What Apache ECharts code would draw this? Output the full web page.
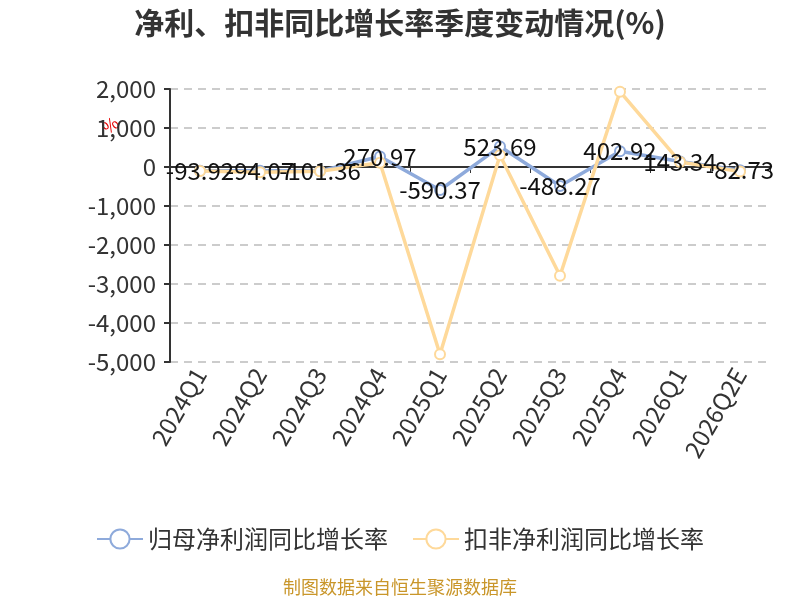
<!DOCTYPE html>
<html><head><meta charset="utf-8">
<script src="https://cdn.jsdelivr.net/npm/echarts@6/dist/echarts.min.js"></script>
<style>html,body{margin:0;padding:0;background:#fff}#c{width:800px;height:600px}</style>
</head><body><div id="c"></div>
<script>
var categories = ['2024Q1','2024Q2','2024Q3','2024Q4','2025Q1','2025Q2','2025Q3','2025Q4','2026Q1','2026Q2E'];
var netProfitYoY = [-93.92,-94.07,-101.36,270.97,-590.37,523.69,-488.27,402.92,143.34,-82.73];
var deductedYoY = [-105,-135,-110,110,-4800,300,-2790,1930,130,-115];
var seriesNames = ['归母净利润同比增长率','扣非净利润同比增长率'];
var yTicks = {min:-5000, max:2000, interval:1000};

var chart = echarts.init(document.getElementById('c'));
var font = '"Microsoft YaHei","Noto Sans CJK SC",sans-serif';
chart.setOption({
  animation:false,
  textStyle:{fontFamily:font},
  title:{text:'净利、扣非同比增长率季度变动情况(%)',left:'center',top:3,
    textStyle:{fontSize:30,fontWeight:'bold',color:'#333',fontFamily:font}},
  legend:{bottom:44,left:'center',itemWidth:46,itemHeight:24,itemGap:24,
    textStyle:{fontSize:24,color:'#333'},data:seriesNames},
  graphic:[{type:'text',left:'center',top:578,style:{text:'制图数据来自恒生聚源数据库',fill:'#c9962a',fontSize:18,fontFamily:font}},
    {type:'text',x:99,y:123,rotation:Math.PI/5,style:{text:'%',fill:'#e60000',fontSize:17,fontFamily:font}}],
  grid:{left:170,right:30,top:89,bottom:238,containLabel:false,outerBoundsMode:'none'},
  xAxis:{type:'category',data:categories,boundaryGap:true,
    axisLine:{onZero:true,lineStyle:{color:'#333',width:2}},
    axisTick:{show:true,alignWithLabel:false,length:6,lineStyle:{color:'#333'}},
    axisLabel:{rotate:60,fontSize:24,color:'#333',margin:8,interval:0}},
  yAxis:{type:'value',min:yTicks.min,max:yTicks.max,interval:yTicks.interval,
    axisLine:{show:true,lineStyle:{color:'#333',width:2}},
    axisTick:{show:true,length:6,lineStyle:{color:'#333',width:2}},
    axisLabel:{fontSize:24,color:'#333',margin:14,formatter:function(v){return echarts.format.addCommas(v);}},
    splitLine:{lineStyle:{type:[8,6],color:'#ccc',width:2}}},
  series:[
    {name:seriesNames[0],type:'line',data:netProfitYoY,symbol:'emptyCircle',symbolSize:10,
      lineStyle:{width:3.5,color:'#8eaadb'},itemStyle:{color:'#8eaadb',borderWidth:2},
      label:{show:true,position:'inside',fontSize:24,color:'#111'}},
    {name:seriesNames[1],type:'line',data:deductedYoY,symbol:'emptyCircle',symbolSize:10,
      lineStyle:{width:3.5,color:'#fed99a'},itemStyle:{color:'#fed99a',borderWidth:2},
      label:{show:false}}
  ]
});
</script></body></html>
